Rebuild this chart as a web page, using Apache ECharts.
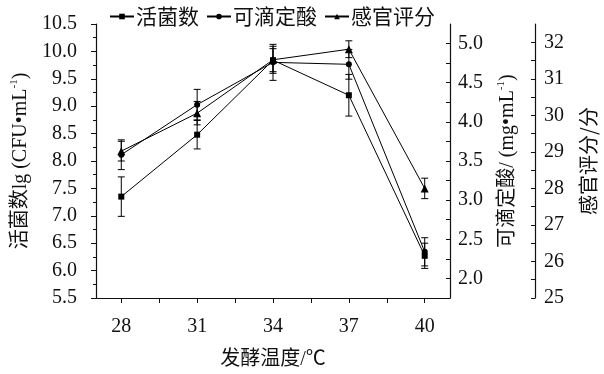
<!DOCTYPE html>
<html>
<head>
<meta charset="utf-8">
<script src="https://cdn.jsdelivr.net/npm/echarts@6/dist/echarts.min.js"></script>
<style>html,body{margin:0;padding:0;background:#fff}#c{width:604px;height:374px}</style>
</head>
<body>
<div id="c"></div>
<script>
const temps = [28, 31, 34, 37, 40];
const viable = [7.35, 8.48, 9.84, 9.20, 6.27];
const viableErr = [0.36, 0.26, 0.21, 0.38, 0.23];
const acidity = [3.58, 4.22, 4.76, 4.735, 2.34];
const acidityErr = [0.19, 0.195, 0.23, 0.19, 0.18];
const sensory = [29.02, 30.06, 31.52, 31.81, 28.0];
const sensoryErr = [0.27, 0.32, 0.37, 0.23, 0.28];

const xLabels = [28, 31, 34, 37, 40];
const xTicks = [28, 29.5, 31, 32.5, 34, 35.5, 37, 38.5, 40];
const acidLabels = [2.0, 2.5, 3.0, 3.5, 4.0, 4.5, 5.0];
const acidTicks = [2.0, 2.25, 2.5, 2.75, 3.0, 3.25, 3.5, 3.75, 4.0, 4.25, 4.5, 4.75, 5.0];
const sensLabels = [25, 26, 27, 28, 29, 30, 31, 32];
const sensTicks = [25, 25.5, 26, 26.5, 27, 27.5, 28, 28.5, 29, 29.5, 30, 30.5, 31, 31.5, 32];

const names = ['活菌数', '可滴定酸', '感官评分'];
const FONT = "'Liberation Serif', 'Noto Sans CJK SC', serif";
const CJK = "'Noto Sans CJK SC', 'Liberation Serif', sans-serif";

function pts(vals) { return temps.map((t, i) => [t, vals[i]]); }
function errs(vals, e) { return temps.map((t, i) => [t, vals[i] - e[i], vals[i] + e[i]]); }

function errRender(params, api) {
  const x = api.value(0), lo = api.value(1), hi = api.value(2);
  const p1 = api.coord([x, lo]), p2 = api.coord([x, hi]);
  const w = 3.5;
  const st = { stroke: '#000', lineWidth: 1 };
  return {
    type: 'group',
    children: [
      { type: 'line', shape: { x1: p1[0], y1: p1[1], x2: p2[0], y2: p2[1] }, style: st },
      { type: 'line', shape: { x1: p1[0] - w, y1: p1[1], x2: p1[0] + w, y2: p1[1] }, style: st },
      { type: 'line', shape: { x1: p2[0] - w, y1: p2[1], x2: p2[0] + w, y2: p2[1] }, style: st }
    ]
  };
}

const axisLine = { show: true, lineStyle: { color: '#111', width: 1.2 } };
const labelStyle = { color: '#111', fontSize: 20, fontFamily: FONT };
const nameRich = {
  a: { fontSize: 20, fontFamily: FONT, color: '#111', lineHeight: 24 },
  s: { fontSize: 11, fontFamily: FONT, color: '#111', verticalAlign: 'top', lineHeight: 24, padding: [0, 0, 8, 0] }
};

const chart = echarts.init(document.getElementById('c'), null, { renderer: 'canvas' });
chart.setOption({
  animation: false,
  backgroundColor: '#fff',
  grid: { left: 96, right: 154, top: 24, bottom: 76, containLabel: false, outerBoundsMode: 'none' },
  legend: {
    data: names,
    left: 104, top: 1,
    itemWidth: 24, itemHeight: 7, itemGap: 7,
    textStyle: { fontSize: 21, fontFamily: CJK, color: '#111', padding: [0, 0, 0, -3] }
  },
  xAxis: {
    type: 'value', min: 27, max: 41,
    name: '发酵温度/℃', nameLocation: 'middle', nameGap: 52,
    nameTextStyle: { fontSize: 20, fontFamily: FONT, color: '#111' },
    axisLine: axisLine,
    axisTick: { show: true, length: 5, customValues: xTicks, lineStyle: { color: '#111' } },
    axisLabel: Object.assign({ customValues: xLabels, margin: 19 }, labelStyle),
    splitLine: { show: false }
  },
  yAxis: [
    {
      type: 'value', min: 5.5, max: 10.5, interval: 0.5, position: 'left',
      name: '{a|活菌数lg (CFU•mL}{s|-1}{a|)}', nameLocation: 'middle', nameGap: 62, nameRotate: 90,
      nameTextStyle: { rich: nameRich },
      axisLine: axisLine,
      axisTick: { show: true, length: 5, lineStyle: { color: '#111' } },
      minorTick: { show: true, splitNumber: 2, length: 3, lineStyle: { color: '#111' } },
      axisLabel: Object.assign({ margin: 19, formatter: v => v.toFixed(1) }, labelStyle),
      splitLine: { show: false }
    },
    {
      type: 'value', min: 1.75, max: 5.25, position: 'right', offset: 0,
      name: '{a|可滴定酸/ (mg•mL}{s|-1}{a|)}', nameLocation: 'middle', nameGap: 46, nameRotate: 90,
      nameTextStyle: { rich: nameRich },
      axisLine: axisLine,
      axisTick: { show: true, inside: true, length: 4, customValues: acidTicks, lineStyle: { color: '#111' } },
      axisLabel: Object.assign({ margin: 8, customValues: acidLabels, formatter: v => v.toFixed(1) }, labelStyle),
      splitLine: { show: false }
    },
    {
      type: 'value', min: 25, max: 32.5, position: 'right', offset: 85,
      name: '感官评分/分', nameLocation: 'middle', nameGap: 43, nameRotate: 90,
      nameTextStyle: { fontSize: 20, fontFamily: CJK, color: '#111' },
      axisLine: axisLine,
      axisTick: { show: true, inside: true, length: 4, customValues: sensTicks, lineStyle: { color: '#111' } },
      axisLabel: Object.assign({ margin: 9, customValues: sensLabels }, labelStyle),
      splitLine: { show: false }
    }
  ],
  series: [
    { name: names[0], type: 'line', yAxisIndex: 0, data: pts(viable), symbol: 'rect', symbolSize: 6,
      itemStyle: { color: '#000' }, lineStyle: { color: '#000', width: 1 }, z: 3 },
    { name: names[1], type: 'line', yAxisIndex: 1, data: pts(acidity), symbol: 'circle', symbolSize: 6,
      itemStyle: { color: '#000' }, lineStyle: { color: '#000', width: 1 }, z: 3 },
    { name: names[2], type: 'line', yAxisIndex: 2, data: pts(sensory), symbol: 'triangle', symbolSize: 8,
      itemStyle: { color: '#000' }, lineStyle: { color: '#000', width: 1 }, z: 3 },
    { type: 'custom', yAxisIndex: 0, data: errs(viable, viableErr), renderItem: errRender, encode: { x: 0, y: [1, 2] }, z: 2 },
    { type: 'custom', yAxisIndex: 1, data: errs(acidity, acidityErr), renderItem: errRender, encode: { x: 0, y: [1, 2] }, z: 2 },
    { type: 'custom', yAxisIndex: 2, data: errs(sensory, sensoryErr), renderItem: errRender, encode: { x: 0, y: [1, 2] }, z: 2 }
  ]
});
</script>
</body>
</html>
